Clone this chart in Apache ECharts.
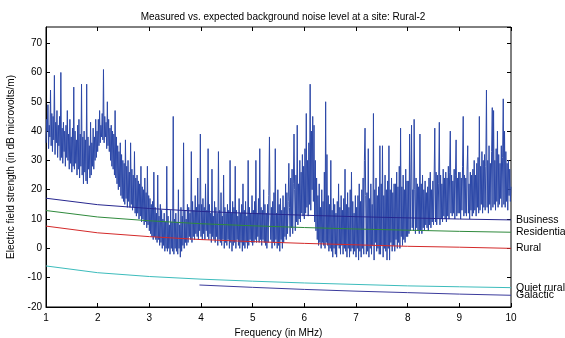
<!DOCTYPE html>
<html>
<head>
<meta charset="utf-8">
<script src="https://cdn.jsdelivr.net/npm/echarts@6/dist/echarts.min.js"></script>
<style>
  html, body { margin: 0; padding: 0; background: #fff; }
  #chart { width: 565px; height: 338px; }
</style>
</head>
<body>
<div id="chart"></div>
<script>
// measured level, one sample every 0.0125 MHz from 1 MHz (8 rows per MHz)
const measStart = 1;
const measStep = 0.0125;
const measured = [
  // 1 MHz
  36, 44, 40, 49, 34, 42, 38, 54, 35, 46,
  33, 45, 37, 59, 32, 43, 36, 47, 31, 42,
  35, 45, 30, 60, 31, 41, 29, 43, 33, 40,
  28, 42, 31, 47, 30, 39, 27, 44, 29, 38,
  26, 41, 28, 55, 27, 40, 29, 37, 25, 42,
  27, 44, 24, 39, 28, 56, 25, 38, 22, 40,
  26, 37, 23, 56, 22, 38, 27, 35, 24, 43,
  25, 36, 28, 41, 27, 38, 30, 44, 31, 40,
  // 2 MHz
  33, 44, 35, 47, 36, 42, 38, 46, 37, 61,
  36, 45, 38, 43, 34, 50, 35, 44, 33, 41,
  30, 42, 28, 40, 27, 39, 25, 47, 24, 38,
  22, 35, 20, 33, 21, 36, 18, 32, 17, 30,
  16, 29, 15, 37, 17, 28, 14, 30, 16, 26,
  14, 36, 15, 27, 13, 25, 14, 33, 12, 24,
  11, 25, 12, 23, 10, 22, 11, 28, 9, 21,
  10, 20, 8, 24, 9, 19, 7, 28, 8, 18,
  // 3 MHz
  6, 17, 5, 15, 4, 16, 3, 26, 4, 14,
  3, 12, 2, 25, 3, 11, 1, 15, 2, 13,
  0, 10, 1, 12, -1, 9, 0, 28, -1, 11,
  0, 8, -2, 13, 0, 9, -1, 45, -2, 10,
  0, 12, -1, 9, -2, 20, 0, 8, -3, 14,
  -1, 11, 1, 36, 0, 13, 2, 10, 1, 15,
  2, 14, 4, 12, 3, 33, 2, 16, 4, 13,
  3, 18, 5, 14, 4, 24, 3, 15, 6, 39,
  // 4 MHz
  4, 15, 3, 17, 5, 14, 3, 22, 6, 13,
  4, 34, 3, 15, 5, 12, 2, 27, 4, 11,
  3, 16, 2, 14, 4, 12, 1, 33, 3, 13,
  2, 19, 1, 11, 3, 25, 0, 14, 2, 12,
  1, 15, 3, 13, 0, 30, 2, 12, -1, 16,
  1, 14, 2, 28, 0, 13, 3, 11, 1, 17,
  0, 12, 2, 15, -1, 22, 1, 13, 0, 16,
  2, 11, 0, 30, 1, 14, 3, 12, 2, 18,
  // 5 MHz
  1, 13, 2, 16, 3, 30, 2, 12, 4, 17,
  2, 34, 3, 14, 1, 13, 3, 20, 2, 15,
  1, 12, 0, 15, 2, 18, 38, 11, 3, 14,
  0, 16, 2, 19, 1, 34, 3, 12, 0, 20,
  1, 15, -1, 17, 3, 13, 0, 18, 2, 14,
  4, 22, 3, 19, 5, 16, 29, 14, 4, 24,
  7, 27, 5, 22, 39, 20, 6, 25, 9, 42,
  8, 22, 10, 30, 9, 26, 12, 32, 11, 28,
  // 6 MHz
  10, 34, 12, 46, 14, 30, 11, 36, 15, 56,
  13, 40, 20, 45, 16, 42, 9, 30, 6, 24,
  3, 18, 1, 22, 2, 14, 0, 20, 2, 16,
  1, 26, 0, 50, 2, 32, 1, 18, -1, 15,
  0, 30, -1, 13, -3, 17, 0, 15, -2, 12,
  -3, 16, 1, 22, 0, 14, -2, 18, 1, 13,
  -2, 17, 0, 27, -1, 15, -3, 19, 0, 14,
  -3, 20, -1, 26, 0, 16, -2, 12, -1, 18,
  // 7 MHz
  -3, 14, 0, 18, -4, 22, -1, 16, -3, 20,
  0, 24, -2, 30, 41, 18, -2, 19, -1, 34,
  -3, 17, 0, 22, -2, 15, 1, 46, -4, 20,
  2, 24, -1, 18, 0, 21, -2, 35, -2, 22,
  1, 35, -3, 18, 0, 25, -1, 20, -4, 23,
  0, 35, -4, 20, 2, 24, -1, 19, 1, 22,
  -1, 22, 3, 26, 0, 21, 2, 28, 0, 41,
  4, 21, 1, 25, 3, 20, 2, 27, 4, 23,
  // 8 MHz
  4, 23, 5, 39, 6, 24, 42, 7, 20, 6,
  44, 20, 5, 24, 7, 22, 6, 21, 5, 39,
  6, 22, 5, 25, 7, 20, 6, 23, 8, 19,
  7, 21, 6, 24, 8, 26, 7, 20, 9, 23,
  8, 24, 41, 9, 26, 8, 25, 10, 22, 43,
  8, 25, 10, 22, 9, 27, 11, 24, 10, 26,
  9, 24, 11, 28, 10, 26, 40, 12, 25, 11,
  23, 12, 27, 10, 25, 37, 11, 24, 12, 26,
  // 9 MHz
  12, 26, 10, 24, 13, 28, 45, 11, 25, 12,
  24, 11, 27, 35, 12, 22, 10, 26, 13, 25,
  11, 27, 12, 30, 13, 25, 11, 29, 14, 31,
  12, 45, 13, 28, 15, 33, 12, 30, 14, 32,
  13, 28, 54, 14, 30, 12, 35, 15, 29, 13,
  33, 48, 14, 47, 15, 30, 13, 34, 16, 40,
  14, 32, 15, 29, 17, 35, 14, 31, 51, 15,
  40, 14, 33, 16, 29, 13, 30, 18, 27, 16,
  // 10 MHz
  21
];

// expected levels read at whole MHz
const refFreq = [1, 2, 3, 4, 5, 6, 7, 8, 9, 10];
const business = [17.1, 14.9, 13.6, 12.6, 11.9, 11.3, 10.8, 10.4, 10.0, 9.7];
const residential = [12.9, 10.7, 9.4, 8.4, 7.7, 7.1, 6.6, 6.2, 5.8, 5.5];
const rural = [7.6, 5.3, 4.0, 3.0, 2.3, 1.7, 1.2, 0.7, 0.4, 0.0];
const quietRural = [-6.0, -8.3, -9.6, -10.5, -11.2, -11.8, -12.3, -12.8, -13.1, -13.4];
const galFreq = [3.97, 5, 6, 7, 8, 9, 10];
const galactic = [-12.5, -13.3, -14.0, -14.6, -15.1, -15.6, -16.0];

const FONT = 'Liberation Sans, Arial, sans-serif';

function pairs(xs, ys) {
  return xs.map((x, i) => [x, ys[i]]);
}

function refLine(name, xs, ys, color) {
  return {
    name: name,
    type: 'line',
    data: pairs(xs, ys),
    symbol: 'none',
    z: 3,
    lineStyle: { color: color, width: 1 },
    endLabel: {
      show: true,
      formatter: '{a}',
      color: '#000',
      fontFamily: FONT,
      fontSize: 10.5,
      distance: 5
    }
  };
}

function renderChart() {
  const dom = document.getElementById('chart');
  const chart = echarts.init(dom);
  const option = {
    animation: false,
    backgroundColor: '#fff',
    title: {
      text: 'Measured vs. expected background noise level at a site: Rural-2',
      left: 278,
      textAlign: 'center',
      top: 7,
      textStyle: { fontFamily: FONT, fontSize: 10, fontWeight: 'normal', color: '#000' }
    },
    grid: {
      left: 46,
      right: 54,
      top: 27,
      bottom: 31,
      outerBoundsMode: 'none',
      show: true,
      borderColor: '#000',
      borderWidth: 1
    },
    xAxis: [
      {
        type: 'value',
        min: 1,
        max: 10,
        interval: 1,
        name: 'Frequency (in MHz)',
        nameLocation: 'middle',
        nameGap: 17,
        nameTextStyle: { fontFamily: FONT, fontSize: 10, color: '#000' },
        axisLine: { onZero: false, lineStyle: { color: '#000' } },
        axisTick: { inside: true, length: 4, lineStyle: { color: '#000' } },
        axisLabel: { fontFamily: FONT, fontSize: 10, color: '#000', margin: 6 },
        splitLine: { show: false }
      },
      {
        type: 'value',
        position: 'top',
        min: 1,
        max: 10,
        interval: 1,
        axisLine: { show: false, onZero: false },
        axisTick: { inside: true, length: 4, lineStyle: { color: '#000' } },
        axisLabel: { show: false },
        splitLine: { show: false }
      }
    ],
    yAxis: [
      {
        type: 'value',
        min: -20,
        max: 75.5,
        interval: 10,
        name: 'Electric field strength (in dB microvolts/m)',
        nameLocation: 'middle',
        nameGap: 28,
        nameTextStyle: { fontFamily: FONT, fontSize: 10, color: '#000' },
        axisLine: { show: true, onZero: false, lineStyle: { color: '#000' } },
        axisTick: { inside: true, length: 4, lineStyle: { color: '#000' } },
        axisLabel: { fontFamily: FONT, fontSize: 10, color: '#000', margin: 4, showMaxLabel: false },
        splitLine: { show: false }
      },
      {
        type: 'value',
        position: 'right',
        min: -20,
        max: 75.5,
        interval: 10,
        axisLine: { show: false, onZero: false },
        axisTick: { inside: true, length: 4, lineStyle: { color: '#000' } },
        axisLabel: { show: false },
        splitLine: { show: false }
      }
    ],
    series: [
      {
        name: 'Measured',
        type: 'line',
        data: measured.map((v, i) => [measStart + i * measStep, v]),
        symbol: 'none',
        z: 2,
        lineStyle: { color: '#2c48a8', width: 1 }
      },
      refLine('Business', refFreq, business, '#27278f'),
      refLine('Residentia', refFreq, residential, '#2f8a3c'),
      refLine('Rural', refFreq, rural, '#d42a2a'),
      refLine('Quiet rural', refFreq, quietRural, '#3cbcbc'),
      refLine('Galactic', galFreq, galactic, '#3b3b9c')
    ]
  };
  chart.setOption(option, true);
}

renderChart();
</script>
</body>
</html>
